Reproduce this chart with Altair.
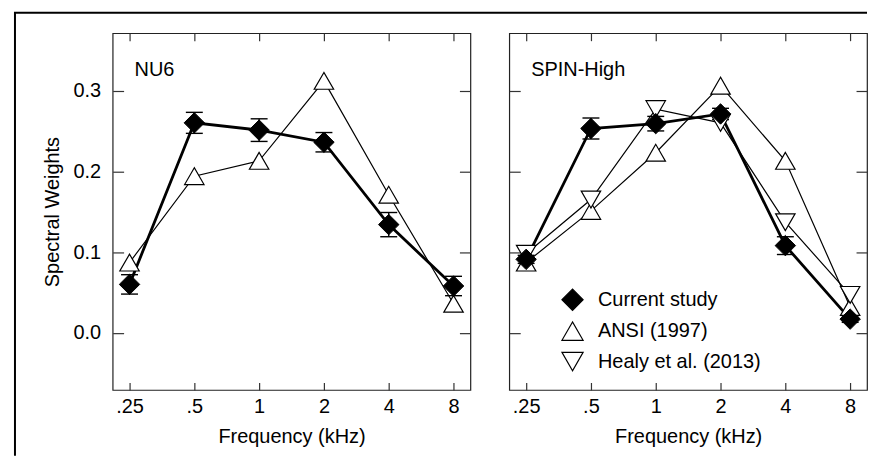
import altair as alt
import pandas as pd

FONT = "Liberation Sans"

freqs = [0.25, 0.5, 1, 2, 4, 8]
freq_labels = [".25", ".5", "1", "2", "4", "8"]
y_ticks = [0.0, 0.1, 0.2, 0.3]

nu6_current = [0.060, 0.260, 0.251, 0.236, 0.134, 0.058]
nu6_current_err = [0.012, 0.013, 0.014, 0.012, 0.015, 0.012]
nu6_ansi = [0.087, 0.194, 0.213, 0.312, 0.171, 0.036]

spin_current = [0.091, 0.253, 0.259, 0.271, 0.108, 0.017]
spin_current_err = [0.005, 0.013, 0.009, 0.007, 0.011, 0.004]
spin_ansi = [0.087, 0.151, 0.223, 0.306, 0.213, 0.032]
spin_healy = [0.098, 0.165, 0.277, 0.260, 0.137, 0.047]

series_names = ["Current study", "ANSI (1997)", "Healy et al. (2013)"]
series_shapes = ["diamond", "triangle-up", "triangle-down"]
series_fills = ["black", "white", "white"]
series_strokes = ["black", "black", "black"]

x_domain = [0.2087, 9.58]
y_domain = [-0.0707, 0.371]

label_expr = " : ".join(
    [f"datum.value == {v} ? '{l}'" for v, l in zip(freqs, freq_labels)]
) + " : datum.label"


def panel(name, current, err, others, show_y, show_legend, frame):
    cur_df = pd.DataFrame({
        "freq": freqs,
        "value": current,
        "lo": [v - e for v, e in zip(current, err)],
        "hi": [v + e for v, e in zip(current, err)],
        "series": series_names[0],
    })
    oth_rows = []
    for sname, vals in others:
        for f, v in zip(freqs, vals):
            oth_rows.append({"freq": f, "value": v, "series": sname})
    oth_df = pd.DataFrame(oth_rows)

    xs = alt.Scale(type="log", base=2, domain=x_domain, nice=False)
    ys = alt.Scale(domain=y_domain, nice=False, zero=False)

    x_bottom = alt.Axis(orient="bottom", values=freqs, labelExpr=label_expr,
                        tickSize=7.5, offset=-7.5, domain=False, grid=False,
                        labelPadding=6.5, title="Frequency (kHz)", titlePadding=10,
                        labelFlush=False)
    x_top = alt.Axis(orient="top", values=freqs, labels=False, tickSize=7.5,
                     offset=-7.5, domain=False, grid=False, title=None)
    if show_y:
        y_left = alt.Axis(orient="left", values=y_ticks, format=".1f", tickSize=11,
                          offset=-11, domain=False, grid=False, labelPadding=12,
                          title="Spectral Weights", titlePadding=11)
    else:
        y_left = alt.Axis(orient="left", values=y_ticks, labels=False, tickSize=11,
                          offset=-11, domain=False, grid=False, title=None)
    y_right = alt.Axis(orient="right", values=y_ticks, labels=False, tickSize=11,
                       offset=-11, domain=False, grid=False, title=None)

    if show_legend:
        legend = alt.Legend(orient="none", legendX=52, legendY=256, title=None,
                            labelFontSize=20, labelFont=FONT, labelColor="black",
                            symbolSize=450, symbolStrokeColor="black",
                            symbolStrokeWidth=1.2, labelOffset=14, rowPadding=5.5,
                            padding=0, symbolOpacity=1, labelLimit=400)
    else:
        legend = None

    shape_enc = alt.Shape("series:N", scale=alt.Scale(domain=series_names, range=series_shapes),
                          legend=legend)
    fill_enc = alt.Fill("series:N", scale=alt.Scale(domain=series_names, range=series_fills),
                        legend=legend)
    stroke_enc = alt.Stroke("series:N", scale=alt.Scale(domain=series_names, range=series_strokes),
                            legend=legend)

    thin = alt.Chart(oth_df).mark_line(color="black", strokeWidth=1.2).encode(
        x=alt.X("freq:Q", scale=xs, axis=x_bottom),
        y=alt.Y("value:Q", scale=ys, axis=y_left),
        detail="series:N",
    )
    thick = alt.Chart(cur_df).mark_line(color="black", strokeWidth=2.8).encode(
        x=alt.X("freq:Q", scale=xs, axis=x_top),
        y=alt.Y("value:Q", scale=ys, axis=y_right),
    )
    ebar = alt.Chart(cur_df).mark_rule(color="black", strokeWidth=1.4).encode(
        x=alt.X("freq:Q", scale=xs, axis=None),
        y=alt.Y("lo:Q", scale=ys, axis=None),
        y2="hi:Q",
    )
    cap_lo = alt.Chart(cur_df).mark_tick(orient="horizontal", size=17, thickness=1.4,
                                         color="black", opacity=1).encode(
        x=alt.X("freq:Q", scale=xs, axis=None),
        y=alt.Y("lo:Q", scale=ys, axis=None),
    )
    cap_hi = alt.Chart(cur_df).mark_tick(orient="horizontal", size=17, thickness=1.4,
                                         color="black", opacity=1).encode(
        x=alt.X("freq:Q", scale=xs, axis=None),
        y=alt.Y("hi:Q", scale=ys, axis=None),
    )
    tri = alt.Chart(oth_df).mark_point(size=380, strokeWidth=1.2,
                                       opacity=1, fillOpacity=1).encode(
        x=alt.X("freq:Q", scale=xs, axis=None),
        y=alt.Y("value:Q", scale=ys, axis=None),
        shape=shape_enc,
        fill=fill_enc,
        stroke=stroke_enc,
    )
    dia = alt.Chart(cur_df).mark_point(size=420, strokeWidth=1,
                                       opacity=1, fillOpacity=1).encode(
        x=alt.X("freq:Q", scale=xs, axis=None),
        y=alt.Y("value:Q", scale=ys, axis=None),
        shape=shape_enc,
        fill=fill_enc,
        stroke=stroke_enc,
    )
    dummy = pd.DataFrame({"a": [0]})
    label = alt.Chart(dummy).mark_text(align="left", baseline="middle", fontSize=20,
                                       font=FONT, color="black").encode(
        x=alt.value(22), y=alt.value(37), text=alt.value(name)
    )
    layers = [thin, thick, ebar, cap_lo, cap_hi, tri, dia, label]
    if frame:
        fl = alt.Chart(dummy).mark_rule(color="black", strokeWidth=2).encode(
            x=alt.value(-98), y=alt.value(-20.5), y2=alt.value(424)
        )
        ft = alt.Chart(dummy).mark_rule(color="black", strokeWidth=2).encode(
            x=alt.value(-99), x2=alt.value(757), y=alt.value(-20.5)
        )
        layers = [fl, ft] + layers
    return alt.layer(*layers).resolve_axis(x="independent", y="independent").properties(
        width=359, height=358
    )


left = panel("NU6", nu6_current, nu6_current_err, [(series_names[1], nu6_ansi)],
             True, False, True)
right = panel("SPIN-High", spin_current, spin_current_err,
              [(series_names[1], spin_ansi), (series_names[2], spin_healy)],
              False, True, False)

chart = alt.hconcat(left, right, spacing=39, bounds="flush").resolve_scale(
    shape="independent", fill="independent", stroke="independent"
).resolve_legend(shape="independent", fill="independent", stroke="independent").properties(
    padding={"left": 4, "top": 1.5, "right": 0, "bottom": 0}
).configure_view(
    stroke="#222", strokeWidth=1.2
).configure_axis(
    tickColor="#333", tickWidth=1.2, labelFont=FONT, labelFontSize=20,
    titleFont=FONT, titleFontSize=20, titleFontWeight="normal",
    labelColor="black", titleColor="black"
)

chart.save("out.html", embed_options={"renderer": "svg", "actions": False})
